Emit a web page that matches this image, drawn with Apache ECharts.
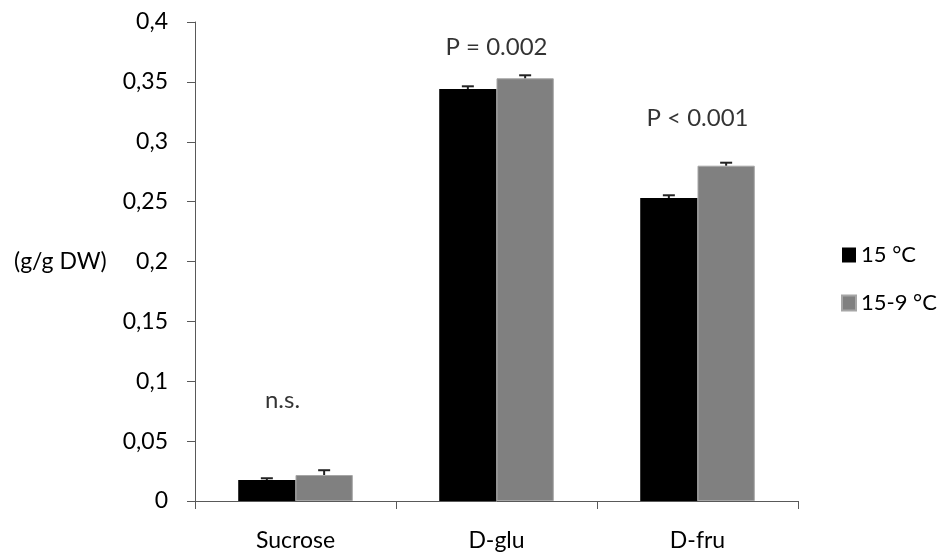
<!DOCTYPE html>
<html>
<head>
<meta charset="utf-8">
<script src="https://cdn.jsdelivr.net/npm/echarts@6/dist/echarts.min.js"></script>
<style>html,body{margin:0;padding:0;background:#fff}#c{width:945px;height:556px}</style>
</head>
<body>
<div id="c"></div>
<script>
const categories = ['Sucrose', 'D-glu', 'D-fru'];
const seriesNames = ['15 °C', '15-9 °C'];
const values15 = [0.0175, 0.344, 0.253];
const values159 = [0.0217, 0.353, 0.280];
const err15 = [0.0015, 0.0023, 0.0023];
const err159 = [0.0040, 0.0025, 0.0025];
const annotations = ['n.s.', 'P = 0.002', 'P < 0.001'];
const annotationY = [0.084, 0.379, 0.320];
const yTicks = [0, 0.05, 0.1, 0.15, 0.2, 0.25, 0.3, 0.35, 0.4];

const FONT = 'Lato';
const FS = 23;
const GAP = 0.43;
const AXIS_COLOR = '#595959';
const chart = echarts.init(document.getElementById('c'));

function errSeries(vals, errs, side) {
  return {
    type: 'custom',
    z: 5,
    silent: true,
    data: vals.map((v, i) => [i, v, errs[i]]),
    renderItem: function (params, api) {
      const i = api.value(0), v = api.value(1), e = api.value(2);
      const band = api.size([1, 0])[0];
      const bw = band * (1 - GAP) / 2;
      const base = api.coord([i, v]);
      const top = api.coord([i, v + e]);
      const x = base[0] + side * bw / 2;
      const cap = 6;
      return {
        type: 'group',
        children: [
          {type: 'line', shape: {x1: x, y1: base[1], x2: x, y2: top[1]}, style: {stroke: '#222', lineWidth: 2}},
          {type: 'line', shape: {x1: x - cap, y1: top[1], x2: x + cap, y2: top[1]}, style: {stroke: '#222', lineWidth: 2}}
        ]
      };
    }
  };
}

const option = {
  animation: false,
  textStyle: {fontFamily: FONT},
  grid: {left: 195, right: 147, top: 22, bottom: 55},
  legend: {
    orient: 'vertical',
    left: 841,
    top: 244,
    padding: 0,
    itemWidth: 14,
    itemHeight: 15,
    itemGap: 26,
    icon: 'rect',
    textStyle: {fontFamily: FONT, fontSize: 22, color: '#000'},
    data: seriesNames
  },
  xAxis: {
    type: 'category',
    data: categories,
    axisLine: {lineStyle: {color: AXIS_COLOR, width: 1}},
    axisTick: {show: true, length: 8, lineStyle: {color: AXIS_COLOR, width: 1}},
    axisLabel: {fontFamily: FONT, fontSize: FS, color: '#000', margin: 28},
    splitLine: {show: false}
  },
  yAxis: {
    type: 'value',
    min: 0,
    max: 0.4,
    interval: 0.05,
    axisLine: {show: true, lineStyle: {color: AXIS_COLOR, width: 1}},
    axisTick: {show: true, length: 8, lineStyle: {color: AXIS_COLOR, width: 1}},
    axisLabel: {
      fontFamily: FONT, fontSize: FS, color: '#000', margin: 27,
      formatter: v => String(Math.round(v * 100) / 100).replace('.', ',')
    },
    splitLine: {show: false}
  },
  graphic: [
    {type: 'text', left: 14, top: 250, style: {text: '(g/g DW)', fontFamily: FONT, fontSize: FS, fill: '#000'}}
  ],
  series: [
    {
      name: seriesNames[0], type: 'bar', data: values15,
      barGap: '0%', barCategoryGap: (GAP * 100) + '%',
      itemStyle: {color: '#000000'}
    },
    {
      name: seriesNames[1], type: 'bar', data: values159,
      barGap: '0%', barCategoryGap: (GAP * 100) + '%',
      itemStyle: {color: '#808080', borderColor: '#a6a6a6', borderWidth: 1}
    },
    errSeries(values15, err15, -1),
    errSeries(values159, err159, 1),
    {
      type: 'scatter',
      symbolSize: 0,
      silent: true,
      data: annotations.map((t, i) => ({
        value: [i, annotationY[i]], name: t,
        label: {offset: i === 0 ? [-13, 0] : [0, 0]}
      })),
      label: {
        show: true, position: 'inside', formatter: p => p.name,
        fontFamily: FONT, fontSize: 24, color: '#000'
      }
    }
  ]
};
chart.setOption(option);
</script>
</body>
</html>
